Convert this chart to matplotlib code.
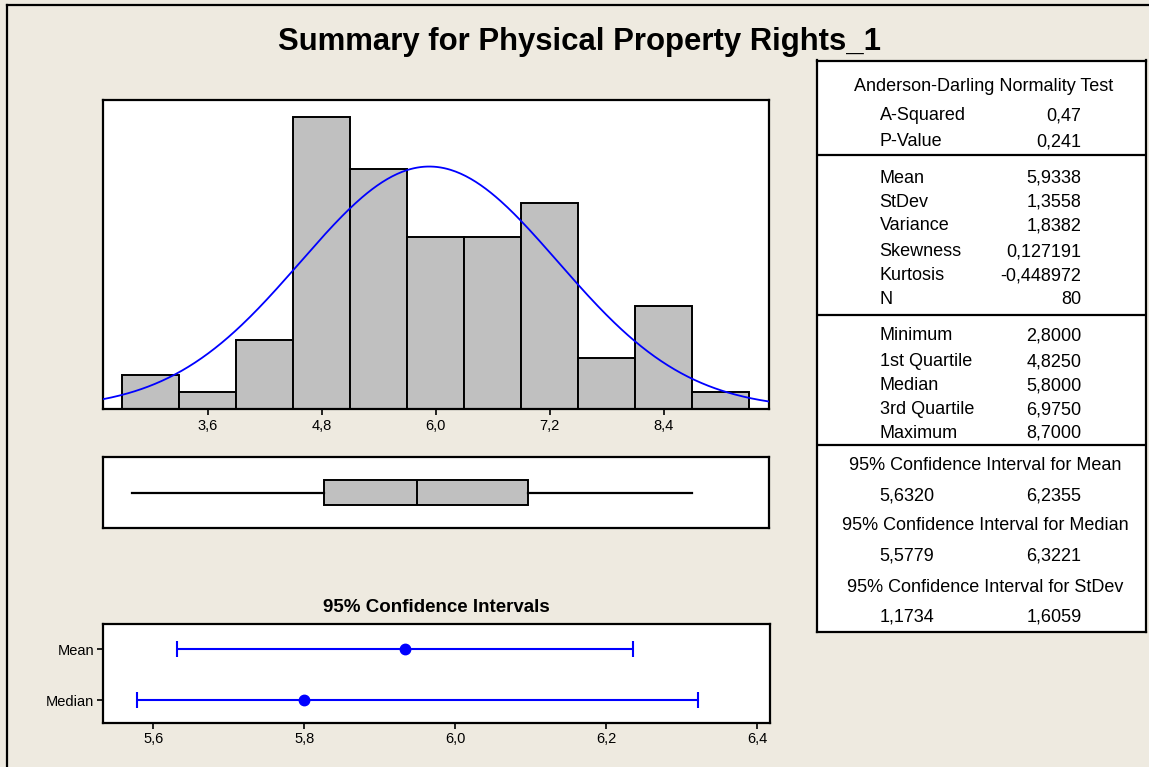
import numpy as np
import matplotlib
matplotlib.use("Agg")
import matplotlib.pyplot as plt
from matplotlib.lines import Line2D

plt.rcParams['font.family'] = ['Liberation Sans', 'DejaVu Sans']

# ---------------- data ----------------
title = "Summary for Physical Property Rights_1"
bin_mids = [3.0, 3.6, 4.2, 4.8, 5.4, 6.0, 6.6, 7.2, 7.8, 8.4, 9.0]
counts = [2, 1, 4, 17, 14, 10, 10, 12, 3, 6, 1]
bin_width = 0.6
hist_ticks = [3.6, 4.8, 6.0, 7.2, 8.4]

mean, stdev, n_obs = 5.9338, 1.3558, 80
minimum, q1, median, q3, maximum = 2.8000, 4.8250, 5.8000, 6.9750, 8.7000

ci_labels = ["Mean", "Median"]
ci_centers = [5.9338, 5.8000]
ci_lower = [5.6320, 5.5779]
ci_upper = [6.2355, 6.3221]
ci_ticks = [5.6, 5.8, 6.0, 6.2, 6.4]

ad_rows = [("A-Squared", "0,47"), ("P-Value", "0,241")]
desc_rows = [("Mean", "5,9338"), ("StDev", "1,3558"), ("Variance", "1,8382"),
             ("Skewness", "0,127191"), ("Kurtosis", "-0,448972"), ("N", "80")]
quant_rows = [("Minimum", "2,8000"), ("1st Quartile", "4,8250"), ("Median", "5,8000"),
              ("3rd Quartile", "6,9750"), ("Maximum", "8,7000")]
ci_rows = [("95% Confidence Interval for Mean", "5,6320", "6,2355"),
           ("95% Confidence Interval for Median", "5,5779", "6,3221"),
           ("95% Confidence Interval for StDev", "1,1734", "1,6059")]

# ---------------- layout helpers ----------------
W, H = 1149, 767
BG = "#EEEAE0"
fig = plt.figure(figsize=(W / 100, H / 100), dpi=100, facecolor=BG)


def rect(x0, y0, x1, y1):
    return [x0 / W, 1 - y1 / H, (x1 - x0) / W, (y1 - y0) / H]


def comma(v, fmt="{:.1f}"):
    return fmt.format(v).replace(".", ",")


SPW = 1.6

# outer window frame
fig.add_artist(Line2D([7 / W, 7 / W], [0, 1 - 5 / H], transform=fig.transFigure, color="black", lw=1.6))
fig.add_artist(Line2D([7 / W, 1], [1 - 5 / H, 1 - 5 / H], transform=fig.transFigure, color="black", lw=1.6))

# title
fig.text(580 / W, 1 - 50 / H, title, ha="center", va="baseline", fontsize=22.4, fontweight="bold")

# ---------------- histogram ----------------
axh = fig.add_axes(rect(103, 100, 769, 409))
axh.bar(bin_mids, counts, width=bin_width, color="#C0C0C0", edgecolor="black", linewidth=1.4, zorder=2)
xs = np.linspace(2.5, 9.52, 400)
pdf = n_obs * bin_width * np.exp(-0.5 * ((xs - mean) / stdev) ** 2) / (stdev * np.sqrt(2 * np.pi))
axh.plot(xs, pdf, color="#0000FF", lw=1.3, zorder=3)
axh.set_xlim(2.5, 9.51)
axh.set_ylim(0, 18)
axh.set_yticks([])
axh.set_xticks(hist_ticks)
axh.set_xticklabels([comma(t) for t in hist_ticks])
axh.tick_params(axis="x", direction="out", length=4, width=1.2, pad=3, labelsize=10.5)
for s in axh.spines.values():
    s.set_linewidth(SPW)

# ---------------- boxplot ----------------
axb = fig.add_axes(rect(103, 457, 769, 528))
axb.bxp([{"med": median, "q1": q1, "q3": q3, "whislo": minimum, "whishi": maximum, "fliers": []}],
        vert=False, positions=[0], widths=0.34, showcaps=False, patch_artist=True,
        boxprops=dict(facecolor="#C0C0C0", edgecolor="black", linewidth=1.4),
        medianprops=dict(color="black", linewidth=1.4),
        whiskerprops=dict(color="black", linewidth=1.6))
axb.set_xlim(2.5, 9.51)
axb.set_ylim(-0.5, 0.5)
axb.set_xticks([])
axb.set_yticks([])
for s in axb.spines.values():
    s.set_linewidth(SPW)

# ---------------- confidence intervals ----------------
axc = fig.add_axes(rect(103, 624, 770, 723))
ypos = [1, 0]
for yv, c, lo, hi in zip(ypos, ci_centers, ci_lower, ci_upper):
    axc.errorbar([c], [yv], xerr=[[c - lo], [hi - c]], fmt="o", color="#0000FF", ecolor="#0000FF",
                 markersize=7.5, elinewidth=1.5, capsize=5.5, capthick=1.5)
axc.set_xlim(5.5334, 6.4168)
axc.set_ylim(-0.45, 1.49)
axc.set_yticks(ypos)
axc.set_yticklabels(ci_labels)
axc.set_xticks(ci_ticks)
axc.set_xticklabels([comma(t) for t in ci_ticks])
axc.tick_params(axis="both", direction="out", length=4.5, width=1.2, pad=2, labelsize=10.5)
for s in axc.spines.values():
    s.set_linewidth(SPW)
fig.text(436.5 / W, 1 - 608 / H, "95% Confidence Intervals", ha="center", va="center",
         fontsize=13.5, fontweight="bold")

# ---------------- statistics table ----------------
TX0, TX1, TY0, TY1 = 817, 1146, 60.5, 632
axt = fig.add_axes(rect(TX0, TY0, TX1, TY1))
axt.set_xlim(TX0, TX1)
axt.set_ylim(TY1, TY0)
axt.set_xticks([])
axt.set_yticks([])
for s in axt.spines.values():
    s.set_linewidth(SPW)
for yy in [155.2, 314.8, 445.3]:
    axt.axhline(yy, color="black", lw=SPW)

FS = 13
LX, RX = 879.6, 1081.6
axt.text(984, 86.4, "Anderson-Darling Normality Test", ha="center", va="center", fontsize=FS)
for (lab, val), yy in zip(ad_rows, [115.8, 141.8]):
    axt.text(LX, yy, lab, ha="left", va="center", fontsize=FS)
    axt.text(RX, yy, val, ha="right", va="center", fontsize=FS)
for (lab, val), yy in zip(desc_rows, [178.2, 202.3, 226.0, 251.7, 275.8, 299.9]):
    axt.text(LX, yy, lab, ha="left", va="center", fontsize=FS)
    axt.text(RX, yy, val, ha="right", va="center", fontsize=FS)
for (lab, val), yy in zip(quant_rows, [335.9, 361.9, 386.0, 409.7, 433.5]):
    axt.text(LX, yy, lab, ha="left", va="center", fontsize=FS)
    axt.text(RX, yy, val, ha="right", va="center", fontsize=FS)
for (lab, lo, hi), (yh, yv) in zip(ci_rows, [(466.0, 495.8), (525.7, 555.9), (587.7, 617.5)]):
    axt.text(985, yh, lab, ha="center", va="center", fontsize=FS)
    axt.text(LX, yv, lo, ha="left", va="center", fontsize=FS)
    axt.text(RX, yv, hi, ha="right", va="center", fontsize=FS)

fig.savefig("out.png", dpi=100, facecolor=BG)
